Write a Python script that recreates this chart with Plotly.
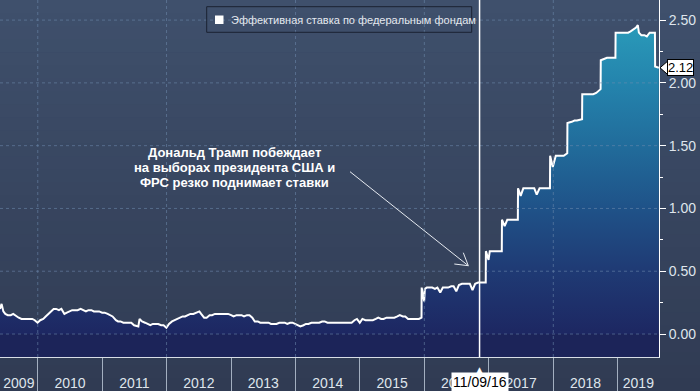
import plotly.graph_objects as go
import pandas as pd

# ---------------- data ----------------
dates = [
    "2009-06-01", "2009-06-10", "2009-06-20", "2009-07-01", "2009-07-15", "2009-08-01", "2009-08-15",
    "2009-09-01", "2009-09-15", "2009-10-01", "2009-10-15", "2009-11-01", "2009-11-15", "2009-12-01",
    "2009-12-15", "2009-12-31",
    "2010-01-15", "2010-02-01", "2010-02-15", "2010-03-01", "2010-03-15", "2010-04-01", "2010-04-15",
    "2010-05-01", "2010-05-15", "2010-06-01", "2010-06-15", "2010-07-01", "2010-07-15", "2010-08-01",
    "2010-08-15", "2010-09-01", "2010-09-15", "2010-10-01", "2010-10-15", "2010-11-01", "2010-11-15",
    "2010-12-01", "2010-12-15",
    "2011-01-01", "2011-01-15", "2011-02-01", "2011-02-15", "2011-03-01", "2011-03-20", "2011-04-01",
    "2011-04-15", "2011-05-01", "2011-05-15", "2011-06-01", "2011-06-15", "2011-07-01", "2011-07-25",
    "2011-08-01", "2011-08-15", "2011-09-01", "2011-09-15", "2011-10-01", "2011-10-15", "2011-11-01",
    "2011-11-15", "2011-12-01", "2011-12-15", "2011-12-31",
    "2012-01-15", "2012-02-01", "2012-02-15", "2012-03-01", "2012-03-15", "2012-04-01", "2012-04-15",
    "2012-05-01", "2012-05-15", "2012-06-01", "2012-06-15", "2012-07-05", "2012-07-15", "2012-08-01",
    "2012-08-15", "2012-09-01", "2012-09-15", "2012-10-01", "2012-10-15", "2012-11-01", "2012-11-15",
    "2012-12-01", "2012-12-15",
    "2013-01-01", "2013-01-15", "2013-02-01", "2013-02-15", "2013-03-01", "2013-03-15", "2013-04-01",
    "2013-04-15", "2013-05-01", "2013-05-15", "2013-06-01", "2013-06-15", "2013-07-01", "2013-07-15",
    "2013-08-01", "2013-08-15", "2013-09-01", "2013-09-15", "2013-10-01", "2013-10-15", "2013-11-01",
    "2013-11-15", "2013-12-01", "2013-12-15",
    "2014-01-01", "2014-01-15", "2014-01-28", "2014-02-15", "2014-03-01", "2014-03-15", "2014-04-01",
    "2014-04-15", "2014-05-01", "2014-05-15", "2014-06-01", "2014-06-15", "2014-07-01", "2014-07-15",
    "2014-08-01", "2014-08-15", "2014-09-01", "2014-09-15", "2014-10-01", "2014-10-15", "2014-11-01",
    "2014-11-15", "2014-12-01", "2014-12-15", "2014-12-31",
    "2015-01-15", "2015-02-01", "2015-02-15", "2015-03-01", "2015-03-15", "2015-04-01", "2015-04-15",
    "2015-05-01", "2015-05-15", "2015-06-01", "2015-06-15", "2015-07-01", "2015-07-15", "2015-08-01",
    "2015-08-15", "2015-09-01", "2015-09-15", "2015-10-01", "2015-10-15", "2015-11-01", "2015-11-15",
    "2015-12-01", "2015-12-16", "2015-12-17", "2015-12-31",
    "2016-01-04", "2016-01-15", "2016-02-01", "2016-02-15", "2016-03-01", "2016-03-15", "2016-03-31",
    "2016-04-15", "2016-05-01", "2016-05-15", "2016-06-01", "2016-06-15", "2016-06-30", "2016-07-15",
    "2016-08-01", "2016-08-15", "2016-09-01", "2016-09-15", "2016-09-30", "2016-10-15", "2016-11-01",
    "2016-11-15", "2016-12-01", "2016-12-14", "2016-12-15", "2016-12-30",
    "2017-01-06", "2017-01-15", "2017-02-01", "2017-02-15", "2017-03-01", "2017-03-15", "2017-03-16",
    "2017-03-31", "2017-04-15", "2017-05-01", "2017-05-15", "2017-06-01", "2017-06-14", "2017-06-15",
    "2017-06-30", "2017-07-15", "2017-08-01", "2017-08-15", "2017-09-15", "2017-09-29", "2017-10-15",
    "2017-11-01", "2017-11-15", "2017-12-01", "2017-12-13", "2017-12-14", "2017-12-29",
    "2018-01-15", "2018-02-01", "2018-02-15", "2018-03-01", "2018-03-21", "2018-03-22", "2018-04-15",
    "2018-05-01", "2018-05-15", "2018-06-13", "2018-06-14", "2018-07-01", "2018-07-15", "2018-08-01",
    "2018-08-15", "2018-09-01", "2018-09-26", "2018-09-27", "2018-10-15", "2018-11-01", "2018-11-15",
    "2018-12-01", "2018-12-19", "2018-12-20",
    "2019-01-15", "2019-02-01", "2019-02-15", "2019-03-01", "2019-03-15", "2019-04-01", "2019-04-15",
    "2019-04-25", "2019-05-01", "2019-05-15", "2019-06-01", "2019-06-15", "2019-07-01", "2019-07-15",
    "2019-07-31", "2019-08-01", "2019-08-22",
]
rate = [
    0.20, 0.24, 0.18, 0.16, 0.15, 0.15, 0.16,
    0.14, 0.13, 0.12, 0.12, 0.12, 0.12, 0.12,
    0.11, 0.09,
    0.11, 0.12, 0.14, 0.16, 0.18, 0.20, 0.20,
    0.19, 0.20, 0.16, 0.17, 0.18, 0.19, 0.19,
    0.19, 0.20, 0.19, 0.18, 0.19, 0.19, 0.18,
    0.18, 0.18,
    0.17, 0.17, 0.16, 0.15, 0.14, 0.11, 0.10,
    0.10, 0.09, 0.09, 0.09, 0.09, 0.07, 0.06,
    0.12, 0.10, 0.09, 0.08, 0.07, 0.08, 0.08,
    0.08, 0.07, 0.07, 0.05,
    0.08, 0.10, 0.11, 0.12, 0.13, 0.14, 0.14,
    0.15, 0.16, 0.16, 0.17, 0.18, 0.16, 0.13,
    0.13, 0.15, 0.15, 0.16, 0.16, 0.16, 0.16,
    0.16, 0.16,
    0.15, 0.14, 0.15, 0.15, 0.15, 0.14, 0.15,
    0.15, 0.13, 0.10, 0.10, 0.09, 0.09, 0.09,
    0.09, 0.08, 0.08, 0.08, 0.09, 0.09, 0.09,
    0.08, 0.09, 0.09,
    0.08, 0.07, 0.06, 0.07, 0.08, 0.08, 0.09,
    0.09, 0.09, 0.09, 0.10, 0.10, 0.09, 0.09,
    0.09, 0.09, 0.09, 0.09, 0.09, 0.09, 0.09,
    0.09, 0.11, 0.12, 0.09,
    0.12, 0.11, 0.11, 0.11, 0.11, 0.12, 0.13,
    0.12, 0.12, 0.13, 0.13, 0.13, 0.13, 0.14,
    0.15, 0.14, 0.14, 0.12, 0.12, 0.12, 0.12,
    0.12, 0.13, 0.37, 0.26,
    0.36, 0.37, 0.37, 0.37, 0.36, 0.37, 0.33,
    0.37, 0.37, 0.37, 0.38, 0.38, 0.34, 0.39,
    0.40, 0.40, 0.40, 0.40, 0.35, 0.40, 0.41,
    0.41, 0.41, 0.41, 0.66, 0.59,
    0.66, 0.66, 0.66, 0.66, 0.66, 0.66, 0.91,
    0.86, 0.91, 0.91, 0.91, 0.91, 0.91, 1.16,
    1.10, 1.16, 1.16, 1.16, 1.16, 1.11, 1.16,
    1.16, 1.16, 1.16, 1.16, 1.42, 1.33,
    1.42, 1.42, 1.42, 1.42, 1.44, 1.68, 1.69,
    1.70, 1.70, 1.71, 1.91, 1.91, 1.91, 1.91,
    1.91, 1.92, 1.95, 2.18, 2.19, 2.20, 2.20,
    2.20, 2.20, 2.40,
    2.40, 2.40, 2.40, 2.40, 2.41, 2.43, 2.44,
    2.46, 2.40, 2.38, 2.38, 2.37, 2.40, 2.40,
    2.40, 2.13, 2.12,
]
years = list(range(2009, 2020))
year_labels = [str(y) for y in years]
y_ticks = [0.0, 0.5, 1.0, 1.5, 2.0, 2.5]
series_name = "Эффективная ставка по федеральным фондам"
event_date = "2016-11-09"
event_label = "11/09/16"
note_lines = ["Дональд Трамп побеждает", "на выборах президента США и", "ФРС резко поднимает ставки"]

# ---------------- layout geometry ----------------
W, H = 700, 391
M_L, M_R, M_T, M_B = 0, 41, 0, 34
PW, PH = W - M_L - M_R, H - M_T - M_B
X_RANGE = ["2009-06-01", "2019-08-23"]
Y_RANGE = [-0.183, 2.66]


def px(x):
    return (x - M_L) / PW


def py(y):
    return (H - M_B - y) / PH


def hexmix(c1, c2, t):
    a = [int(c1[i:i + 2], 16) for i in (1, 3, 5)]
    b = [int(c2[i:i + 2], 16) for i in (1, 3, 5)]
    return "#" + "".join(f"{round(a[k] + (b[k] - a[k]) * t):02x}" for k in range(3))


COND = "Liberation Sans Narrow, Arial Narrow, Liberation Sans, Arial, sans-serif"
GRID = "rgba(112,140,175,0.55)"

# year label positions: centred in the visible part of each year
r0, r1 = pd.Timestamp(X_RANGE[0]), pd.Timestamp(X_RANGE[1])
label_pos = []
for y in years:
    s = max(pd.Timestamp(f"{y}-01-01"), r0)
    e = min(pd.Timestamp(f"{y + 1}-01-01"), r1)
    label_pos.append((s + (e - s) / 2).strftime("%Y-%m-%d %H:%M"))
year_bounds = [f"{y}-01-01" for y in years[1:]]

fig = go.Figure()
fig.add_trace(go.Scatter(
    x=dates, y=rate, mode="lines", name=series_name, showlegend=False,
    line=dict(color="white", width=2),
    fill="tozeroy",
    fillgradient=dict(type="vertical", start=0, stop=2.5,
                      colorscale=[[0, "#1d2762"], [0.2, "#1f3a74"], [0.4, "#1f5288"],
                                  [0.6, "#216c9b"], [0.8, "#2484ad"], [1, "#2a9cba"]]),
))

shapes = []
# background vertical gradient
N = 30
top, bot = "#3f506c", "#303b53"
for i in range(N):
    y0 = 1 - i * (H / PH) / N
    y1 = 1 - (i + 1) * (H / PH) / N
    shapes.append(dict(type="rect", xref="paper", yref="paper", x0=0, x1=W / PW + 0.01,
                       y0=y1 - 0.002, y1=y0, fillcolor=hexmix(top, bot, (i + 0.5) / N),
                       line=dict(width=0), layer="below"))
# area below zero
shapes.append(dict(type="rect", xref="paper", yref="y", x0=0, x1=1, y0=Y_RANGE[0], y1=0,
                   fillcolor="#1c2459", line=dict(width=0), layer="below"))
# gridlines
for v in y_ticks:
    shapes.append(dict(type="line", xref="paper", yref="y", x0=0, x1=1, y0=v, y1=v,
                       line=dict(color=GRID, width=1, dash="3px,3px"), layer="above"))
for y in years[1::2]:
    shapes.append(dict(type="line", xref="x", yref="paper", x0=f"{y}-01-01", x1=f"{y}-01-01",
                       y0=0, y1=1, line=dict(color=GRID, width=1, dash="3px,3px"), layer="above"))
# event line
shapes.append(dict(type="line", xref="x", yref="paper", x0=event_date, x1=event_date, y0=0, y1=1,
                   line=dict(color="white", width=1.5), layer="above"))
# annotation arrow (open head)
AC = "#e6eaf0"
shapes.append(dict(type="line", xref="paper", yref="paper", x0=px(350), y0=py(171.7),
                   x1=px(468.3), y1=py(265.7), line=dict(color=AC, width=1), layer="above"))
for ax_, ay_ in [(454.3, 264), (463.3, 252.7)]:
    shapes.append(dict(type="line", xref="paper", yref="paper", x0=px(ax_), y0=py(ay_),
                       x1=px(468.3), y1=py(265.7), line=dict(color=AC, width=1), layer="above"))
# legend frame and swatch
shapes.append(dict(type="rect", xref="paper", yref="paper", x0=px(206.7), x1=px(471.7),
                   y0=py(32.3), y1=py(6.7), fillcolor="rgba(0,0,0,0)",
                   line=dict(color="#1b2232", width=1), layer="above"))
shapes.append(dict(type="rect", xref="paper", yref="paper", x0=px(215), x1=px(223.5),
                   y0=py(24), y1=py(15.5), fillcolor="white", line=dict(width=0), layer="above"))
# last value pointer
last = rate[-1]
shapes.append(dict(type="path", xref="paper", yref="y",
                   path=f"M {px(660)},{last} L {px(667.5)},{last + 0.052} L {px(667.5)},{last - 0.052} Z",
                   fillcolor="white", line=dict(color="black", width=1), layer="above"))

annotations = []
for i, t in enumerate(note_lines):
    annotations.append(dict(xref="paper", yref="paper", x=px(234), y=py(152 + 15 * i), text=t,
                            showarrow=False, xanchor="center", yanchor="middle",
                            font=dict(family="Liberation Sans, Arial, sans-serif", size=13,
                                      color="white", weight="bold")))
annotations.append(dict(xref="paper", yref="paper", x=px(229), y=py(20), text=series_name,
                        showarrow=False, xanchor="left", yanchor="middle",
                        font=dict(family="Liberation Sans, Arial, sans-serif", size=11, color="#e4e8ee")))
annotations.append(dict(xref="x", yref="paper", x=event_date, y=py(382), text=event_label,
                        showarrow=False, xanchor="center", yanchor="middle", bgcolor="white",
                        borderpad=1, font=dict(family=COND, size=14, color="black")))
annotations.append(dict(xref="x", yref="paper", x=event_date, y=py(369.5), text="▲",
                        showarrow=False, xanchor="center", yanchor="middle",
                        font=dict(family="DejaVu Sans", size=9, color="white")))
annotations.append(dict(xref="paper", yref="y", x=px(667), y=last, text=f"{last:.2f}",
                        showarrow=False, xanchor="left", yanchor="middle", bgcolor="white",
                        bordercolor="black", borderwidth=1, borderpad=0,
                        font=dict(family=COND, size=13, color="black")))

fig.update_layout(
    width=W, height=H,
    margin=dict(l=M_L, r=M_R, t=M_T, b=M_B, pad=0),
    paper_bgcolor="#333f57", plot_bgcolor="rgba(0,0,0,0)",
    showlegend=False,
    shapes=shapes, annotations=annotations,
    xaxis=dict(type="date", range=X_RANGE, automargin=False,
               tickmode="array", tickvals=label_pos, ticktext=year_labels,
               ticks="outside", ticklen=13, tickcolor="rgba(0,0,0,0)",
               tickfont=dict(family=COND, size=14, color="#dfe5ec"),
               showgrid=False, zeroline=False,
               showline=True, linecolor="#d8dee6", linewidth=1,
               minor=dict(tickmode="array", tickvals=year_bounds, ticks="outside", ticklen=34,
                          tickcolor="#a3afc0", tickwidth=1, showgrid=False)),
    yaxis=dict(side="right", range=Y_RANGE, automargin=False,
               tickmode="array", tickvals=y_ticks, ticktext=[f"{v:.2f}" for v in y_ticks],
               ticks="outside", ticklen=6, tickwidth=1, tickcolor="white",
               tickfont=dict(family=COND, size=14, color="#dfe5ec"),
               showgrid=False, zeroline=False,
               showline=True, linecolor="white", linewidth=1,
               minor=dict(dtick=0.25, ticks="outside", ticklen=3, tickcolor="white", showgrid=False)),
)

fig.write_html("out.html", config={"displayModeBar": False},
               post_script="document.body.style.margin='0';document.body.style.overflow='hidden';")
